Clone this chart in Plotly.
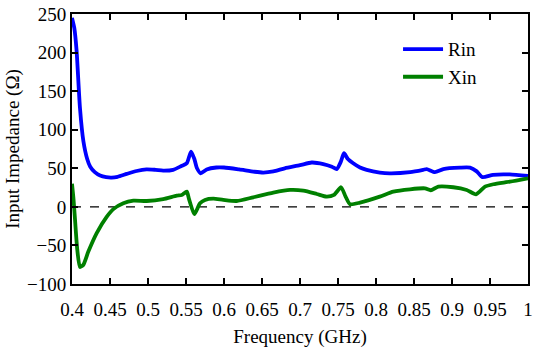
import plotly.graph_objects as go

freq_rin = [0.400, 0.403, 0.406, 0.4105, 0.415, 0.42, 0.424, 0.43, 0.437, 0.445, 0.452, 0.46,
            0.472, 0.485, 0.498, 0.51, 0.52, 0.533, 0.544, 0.551, 0.5566, 0.561, 0.5645, 0.5693,
            0.5772, 0.59, 0.60, 0.62, 0.64, 0.6518, 0.665, 0.68, 0.70, 0.7154, 0.7307, 0.742,
            0.7483, 0.7535, 0.7579, 0.763, 0.770, 0.779, 0.7877, 0.805, 0.818, 0.845, 0.862,
            0.8667, 0.8776, 0.8886, 0.9105, 0.9237, 0.9325, 0.940, 0.954, 0.976, 1.0]
rin = [245, 232, 203, 128, 85, 62, 52, 45, 40.5, 38.5, 38, 39,
       42.7, 46.5, 48.7, 48, 47, 48, 53, 56.5, 71.5, 62, 50, 43.5,
       48.5, 51, 51, 48.5, 45.5, 44.5, 46, 50, 54, 57.5, 55.5, 52,
       49, 58, 69.5, 62, 56.5, 51, 48, 44.5, 43.5, 45, 48,
       49, 45, 49, 50.8, 50.8, 46, 38.5, 41.5, 42, 40]

freq_xin = [0.400, 0.402, 0.404, 0.407, 0.4105, 0.415, 0.4215, 0.4325, 0.4456, 0.4544, 0.4675,
            0.4807, 0.4982, 0.52, 0.5377, 0.5443, 0.551, 0.554, 0.561, 0.5684, 0.575, 0.586,
            0.599, 0.6167, 0.6386, 0.6649, 0.6868, 0.7044, 0.722, 0.735, 0.7447, 0.754, 0.760,
            0.7658, 0.779, 0.805, 0.8228, 0.8447, 0.8645, 0.872, 0.882, 0.9017, 0.9193, 0.9316,
            0.9434, 0.9544, 0.9763, 1.0]
xin = [30, 10, -17, -56, -78, -75, -58, -34, -13, -3, 4.7,
       8, 7.6, 10, 14.5, 15.4, 19.7, 10, -9.5, 4.7, 9, 10.6,
       9, 7.6, 12.4, 18.4, 21.9, 21, 16.7, 13.2, 15.4, 25.4, 13.2,
       3.4, 5.5, 13.2, 19.7, 22.8, 24, 21.5, 26.2, 25.4, 21.9, 16.3,
       26.2, 29.3, 32.7, 37]

x_tickvals = [0.4, 0.45, 0.5, 0.55, 0.6, 0.65, 0.7, 0.75, 0.8, 0.85, 0.9, 0.95, 1.0]
x_ticktext = ["0.4", "0.45", "0.5", "0.55", "0.6", "0.65", "0.7", "0.75", "0.8", "0.85", "0.9", "0.95", "1"]
y_tickvals = [-100, -50, 0, 50, 100, 150, 200, 250]
zero_line = [0, 0]
zero_x = [0.4, 1.0]

font = "Times New Roman, Liberation Serif, DejaVu Serif, serif"
fsize = 19

fig = go.Figure()
fig.add_trace(go.Scatter(x=zero_x, y=zero_line, mode="lines", showlegend=False,
                         line=dict(color="black", width=1.3, dash="dash"), hoverinfo="skip"))
fig.add_trace(go.Scatter(x=freq_rin, y=rin, mode="lines", name="Rin",
                         line=dict(color="#0000ff", width=3.8, shape="spline", smoothing=0.6)))
fig.add_trace(go.Scatter(x=freq_xin, y=xin, mode="lines", name="Xin",
                         line=dict(color="#008000", width=3.8, shape="spline", smoothing=0.6)))

axis_common = dict(showline=True, linecolor="black", linewidth=2, mirror="ticks",
                   ticks="inside", ticklen=6, tickwidth=1.5, tickcolor="black",
                   showgrid=False, zeroline=False, automargin=False,
                   ticklabeloverflow="allow",
                   tickfont=dict(family=font, size=fsize, color="black"))

fig.update_layout(
    width=550, height=348,
    margin=dict(l=72, r=22, t=14, b=64),
    paper_bgcolor="white", plot_bgcolor="white",
    font=dict(family=font, size=fsize, color="black"),
    xaxis=dict(range=[0.4, 1.0], tickvals=x_tickvals, ticktext=x_ticktext,
               ticklabelstandoff=7,
               title=dict(text="Frequency (GHz)", font=dict(family=font, size=fsize), standoff=12),
               **axis_common),
    yaxis=dict(range=[-100, 250], tickvals=y_tickvals,
               title=dict(text="Input Impedance (Ω)", font=dict(family=font, size=fsize), standoff=2),
               **axis_common),
    legend=dict(x=0.715, y=0.94, xanchor="left", yanchor="top", bgcolor="rgba(0,0,0,0)",
                font=dict(family=font, size=fsize), tracegroupgap=0, itemwidth=40),
)

fig.write_html("out.html", config={"displayModeBar": False},
               post_script="document.body.style.margin='0';")
